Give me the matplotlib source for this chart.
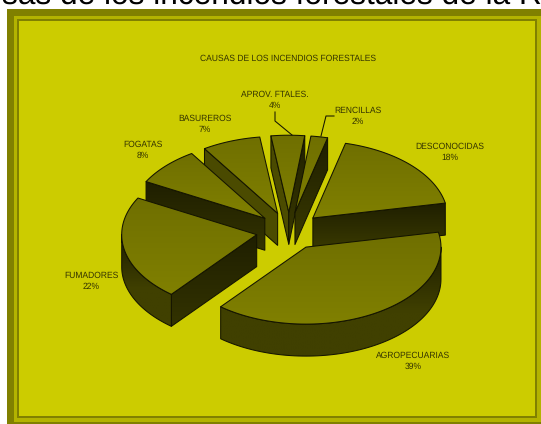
import numpy as np
import matplotlib
matplotlib.use("Agg")
import matplotlib.pyplot as plt
from matplotlib.colors import to_rgb
from matplotlib.patches import Polygon, Rectangle

causes = ["DESCONOCIDAS", "AGROPECUARIAS", "FUMADORES", "FOGATAS",
          "BASUREROS", "APROV. FTALES.", "RENCILLAS"]
percent = [18, 39, 22, 8, 7, 4, 2]

title = "CAUSAS DE LOS INCENDIOS FORESTALES"
headline = "Causas de los incendios forestales de la R"

# pie geometry, in pixels of the picture
cx, cy = 289, 231
rx, ry = 135, 77
depth = 32
explode = 0.244
start_angle = 76

# where the label of each cause goes
label_xy = [(450, 147), (413, 356), (91, 276), (143, 145),
            (205, 119), (275, 95), (358, 111)]

plt.rcParams["font.family"] = ["Liberation Sans", "DejaVu Sans"]
plt.rcParams["text.hinting"] = "no_hinting"

fig = plt.figure(figsize=(5.41, 4.24), dpi=100, facecolor="white")
ax = fig.add_axes([0, 0, 1, 1])
ax.set_xlim(0, 541)
ax.set_ylim(424, 0)
ax.axis("off")

z = [10]


def gradient_poly(xy, top, bottom, stop=1.0):
    # vertical gradient clipped to the polygon, then the black outline
    xy = np.array(xy)
    y0, y1 = xy[:, 1].min(), xy[:, 1].max()
    k = np.clip(np.linspace(0, 1, 128) / stop, 0, 1)[:, None, None]
    img = np.array(to_rgb(top))[None, None, :] * (1 - k) + np.array(to_rgb(bottom))[None, None, :] * k
    im = ax.imshow(img, extent=[xy[:, 0].min(), xy[:, 0].max(), y1, y0],
                   aspect="auto", zorder=z[0], interpolation="bilinear")
    poly = Polygon(xy, closed=True, fc="none", ec="#141400", lw=0.75, zorder=z[0] + 0.5, joinstyle="round")
    ax.add_patch(poly)
    im.set_clip_path(poly)
    z[0] += 1


def rim(t0, t1, ox, oy, dz=0):
    t = np.radians(np.linspace(t0, t1, 80))
    return np.column_stack([ox + rx * np.cos(t), oy - ry * np.sin(t) + dz])


def radial_wall(ox, oy, t):
    a = np.radians(t)
    ex, ey = ox + rx * np.cos(a), oy - ry * np.sin(a)
    return [(ox, oy), (ex, ey), (ex, ey + depth), (ox, oy + depth)]


# frame
ax.add_patch(Rectangle((7, 9), 534, 415, fc="#808000", ec="none", zorder=1))
ax.add_patch(Rectangle((14, 16), 527, 406, fc="#b3b300", ec="none", zorder=2))
ax.add_patch(Rectangle((17, 19), 520, 399, fc="#808000", ec="none", zorder=3))
ax.add_patch(Rectangle((18.5, 21), 516, 395, fc="#cccc00", ec="none", zorder=4))

ax.text(-56, 3.7, headline, fontsize=22.8, color="black", ha="left", va="baseline", zorder=5)

# slices from the percentages, clockwise
slices = []
angle = start_angle
for name, v in zip(causes, percent):
    sweep = v * 3.6
    t1, t2 = angle, angle - sweep
    mid = np.radians((t1 + t2) / 2)
    ox = cx + explode * rx * np.cos(mid)
    oy = cy - explode * ry * np.sin(mid)
    slices.append((oy, ox, t1, t2))
    angle = t2

for oy, ox, t1, t2 in sorted(slices, key=lambda s: s[0]):
    # end walls that face the viewer
    a1, a2 = np.radians(t1), np.radians(t2)
    if np.cos(a1) < 0:
        if np.cos(a1 + np.pi / 2) < -0.6:
            gradient_poly(radial_wall(ox, oy, t1), "#4a4a00", "#4d4d00")
        else:
            gradient_poly(radial_wall(ox, oy, t1), "#1f1f00", "#333300")
    if np.cos(a2) > 0:
        gradient_poly(radial_wall(ox, oy, t2), "#1f1f00", "#3a3a00")

    # outer wall, lower half of the ellipse only
    s = min(t1, 0)
    e = max(t2, -180)
    if s > e:
        front = rim(s, e, ox, oy)
        back = rim(e, s, ox, oy, depth)
        gradient_poly(np.vstack([front, back]), "#1f1f00", "#404000", stop=0.6)

    # top face
    top = np.vstack([[(ox, oy)], rim(t1, t2, ox, oy)])
    gradient_poly(top, "#6f6f00", "#808000")

# labels
ink = "#333300"
ax.text(288.5, 59, title, fontsize=6.15, color=ink, ha="center", va="center", zorder=100)
for name, v, (x, y) in zip(causes, percent, label_xy):
    ax.text(x, y, name, fontsize=6.15, color=ink, ha="center", va="center", zorder=100)
    ax.text(x, y + 11, f"{v}%", fontsize=6.15, color=ink, ha="center", va="center", zorder=100)

# leader lines of the two small slices
ax.plot([275, 275, 292], [112, 121, 135], color="#141400", lw=0.75, zorder=100)
ax.plot([334, 326, 321], [116, 116, 136], color="#141400", lw=0.75, zorder=100)

ax.set_xlim(0, 541)
ax.set_ylim(424, 0)
fig.savefig("out.png", dpi=100)
